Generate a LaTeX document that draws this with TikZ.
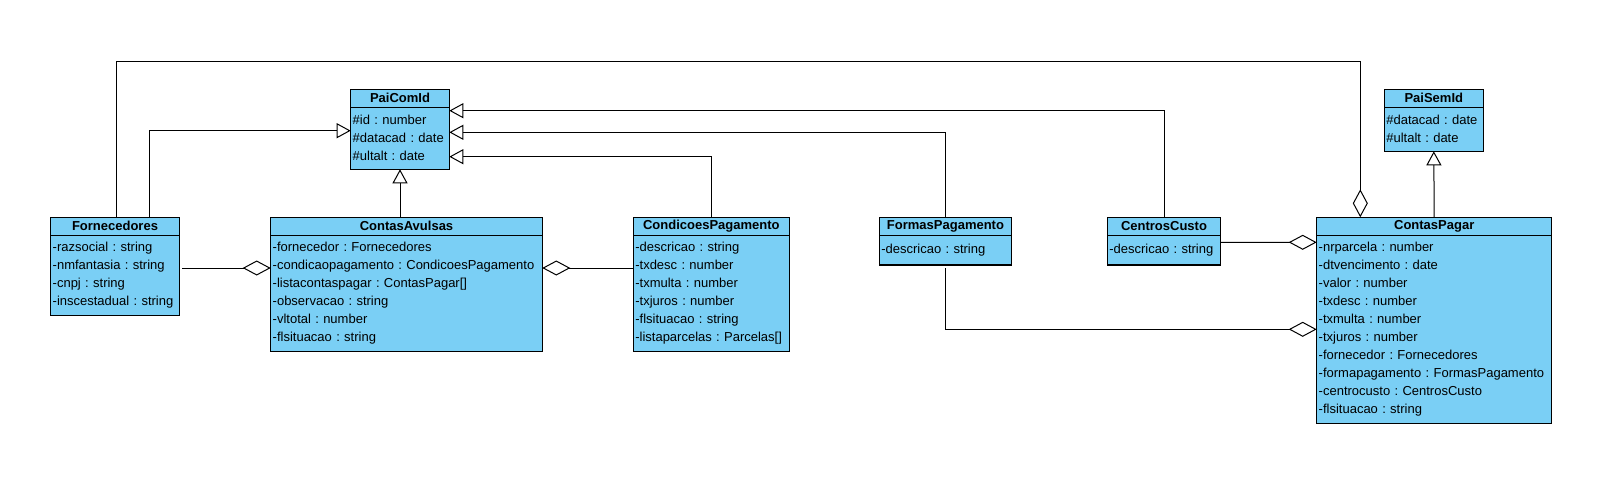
\documentclass[tikz,border=0pt]{standalone}
\usepackage{fontspec}
\setmainfont{Liberation Sans}
\usetikzlibrary{positioning}
\usetikzlibrary{arrows.meta}
\definecolor{umlblue}{RGB}{122,207,245}
\tikzstyle{classhead} = [rectangle, draw=black, fill=umlblue, line width=1.1pt, inner sep=0pt, outer sep=0pt, minimum height=18pt, font=\bfseries\fontsize{13}{18}\selectfont, anchor=north west]
\tikzstyle{classbody} = [rectangle, draw=black, fill=umlblue, line width=1.1pt, inner xsep=2pt, inner ysep=0pt, outer sep=0pt, align=left, font=\fontsize{13}{18}\selectfont]
\tikzstyle{gen} = [line width=1pt, -{Triangle[open, length=14pt, width=15pt]}]
\tikzstyle{agg} = [line width=1pt, -{Diamond[open, length=28pt, width=15pt]}]

\begin{document}
\frenchspacing
\hyphenpenalty=10000
\begin{tikzpicture}[x=1pt, y=-1pt]
        \useasboundingbox (0,0) rectangle (1614,482);

        \node (paicomh) [classhead, minimum width=98.6pt] at (350.7,89.3) {PaiComId};
        \node (paicom) [classbody, text width=94.6pt, minimum height=62pt, below=0pt of paicomh] {\#id : number\\ \#datacad : date\\ \#ultalt : date};

        \node (paisemh) [classhead, minimum width=99pt] at (1384.3,89.3) {PaiSemId};
        \node (paisem) [classbody, text width=95pt, minimum height=44pt, below=0pt of paisemh] {\#datacad : date\\ \#ultalt : date};

        \node (fornh) [classhead, minimum width=128.6pt] at (50.7,217.3) {Fornecedores};
        \node (forn) [classbody, text width=124.6pt, minimum height=80pt, below=0pt of fornh] {-razsocial : string\\ -nmfantasia : string\\ -cnpj : string\\ -inscestadual : string};

        \node (avulsah) [classhead, minimum width=271.6pt] at (270.7,217.3) {ContasAvulsas};
        \node (avulsa) [classbody, text width=267.6pt, minimum height=116pt, below=0pt of avulsah] {-fornecedor : Fornecedores\\ -condicaopagamento : CondicoesPagamento\\ -listacontaspagar : ContasPagar[]\\ -observacao : string\\ -vltotal : number\\ -flsituacao : string};

        \node (condh) [classhead, minimum width=156pt] at (633.3,217.3) {CondicoesPagamento};
        \node (cond) [classbody, text width=152pt, minimum height=116pt, below=0pt of condh] {-descricao : string\\ -txdesc : number\\ -txmulta : number\\ -txjuros : number\\ -flsituacao : string\\ -listaparcelas : Parcelas[]};

        \node (formash) [classhead, minimum width=132.4pt] at (879.3,217.3) {FormasPagamento};
        \node (formas) [classbody, text width=128.4pt, minimum height=29.7pt, below=0pt of formash] {-descricao : string};

        \node (centrosh) [classhead, minimum width=113.4pt] at (1107.3,217.3) {CentrosCusto};
        \node (centros) [classbody, text width=109.4pt, minimum height=29.7pt, below=0pt of centrosh] {-descricao : string};

        \node (pagarh) [classhead, minimum width=235pt] at (1316.7,217.3) {ContasPagar};
        \node (pagar) [classbody, text width=231pt, minimum height=188pt, below=0pt of pagarh] {-nrparcela : number\\ -dtvencimento : date\\ -valor : number\\ -txdesc : number\\ -txmulta : number\\ -txjuros : number\\ -fornecedor : Fornecedores\\ -formapagamento : FormasPagamento\\ -centrocusto : CentrosCusto\\ -flsituacao : string};

        % heranca
        \draw [gen] ([xshift=98.6pt]fornh.north west) |- ([yshift=7.6pt]paicom.west);
        \draw [gen] (paicom.south |- avulsah.north) -- (paicom.south);
        \draw [gen] (condh.north) |- ([yshift=-18.4pt]paicom.east);
        \draw [gen] (formash.north) |- ([yshift=6pt]paicom.east);
        \draw [gen] (centrosh.north) |- ([yshift=27.6pt]paicom.east);
        \draw [gen] (pagarh.north) -- (paisem.south);

        % agregacao
        \coordinate (topline) at (700,61.7);
        \draw [agg] ([xshift=3pt,yshift=7.3pt]forn.east) -- ([yshift=25.3pt]avulsa.west);
        \draw [agg] ([yshift=25.3pt]cond.west) -- ([yshift=25.3pt]avulsa.east);
        \draw [agg] ([yshift=7.9pt]centros.east) -- ([yshift=87pt]pagar.west);
        \draw [agg] ([yshift=-3pt]formas.south) |- (pagar.west);
        \draw [agg] ([xshift=1.3pt]fornh.north) |- (topline) -| ([xshift=43.6pt]pagarh.north west);
    \end{tikzpicture}
\end{document}
